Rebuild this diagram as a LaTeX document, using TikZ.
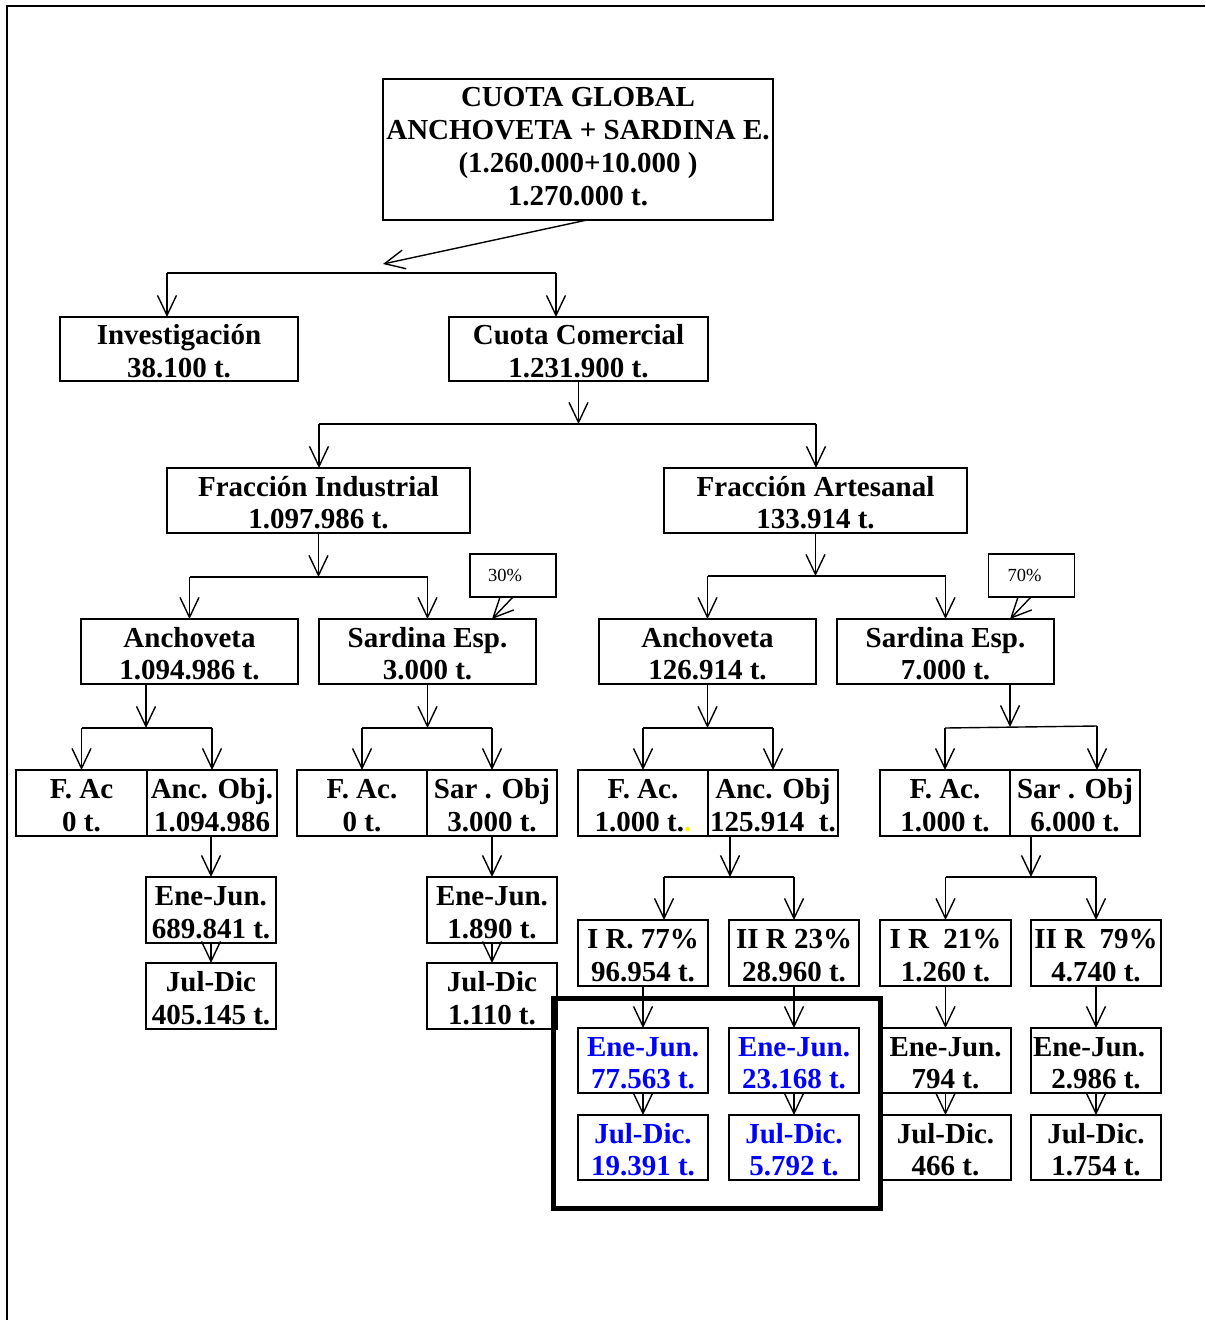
\documentclass[tikz,border=0pt]{standalone}
\usepackage{fontspec}
\setmainfont{Liberation Serif}
\usetikzlibrary{arrows.meta}
\newcommand{\Sa}{\rule{0pt}{24.5pt}}
\begin{document}
\begin{tikzpicture}[x=1pt,y=-1pt,
  every node/.style={inner sep=0pt, outer sep=0pt},
  bx/.style n args={2}{draw, line width=1.4pt, minimum width=#1pt, minimum height=#2pt, align=center,
     font=\bfseries\fontsize{29}{32.5}\selectfont},
  bigbx/.style={draw, line width=1.4pt, minimum width=390pt, minimum height=141pt, align=center,
     font=\bfseries\fontsize{29}{33}\selectfont, execute at end node={\rule[-6pt]{0pt}{6pt}}},
  pct/.style={draw, line width=1.4pt, minimum width=86pt, minimum height=43pt, align=center,
     font=\fontsize{18.5}{20}\selectfont},
  ln/.style={line width=1.4pt},
  arr/.style={line width=1.4pt, -{Straight Barb[length=20pt,width=19pt,line width=1.4pt]}},
  blu/.style={text=blue}]
\useasboundingbox (0,0) rectangle (1205,1320);
\fill[white] (0,0) rectangle (1205,1320);
% frame
\draw[line width=2pt] (7,1320) -- (7,6) -- (1205,6);

% nodes
\node[bigbx] (top) at (578,149.5) {CUOTA GLOBAL\\ANCHOVETA + SARDINA E.\\(1.260.000+10.000 )\\1.270.000 t.};
\node[bx={238}{64}] (inv) at (179,349) {\Sa Investigación\\38.100 t.};
\node[bx={259}{64}] (com) at (578.5,349) {\Sa Cuota Comercial\\1.231.900 t.};
\node[bx={303}{65}] (fi) at (318.5,500.5) {\Sa Fracción Industrial\\1.097.986 t.};
\node[bx={303}{65}] (fa) at (815.5,500.5) {\Sa Fracción Artesanal\\133.914 t.};
\node[pct] (p30) at (513,575.5) {\hspace*{-16pt}30\%};
\node[pct] (p70) at (1031.5,575.5) {\hspace*{-14pt}70\%};
\node[bx={217}{65}] (ancI) at (189.5,651.5) {\Sa Anchoveta\\1.094.986 t.};
\node[bx={217}{65}] (sarI) at (427.5,651.5) {\Sa Sardina Esp.\\3.000 t.};
\node[bx={217}{65}] (ancA) at (707.5,651.5) {\Sa Anchoveta\\126.914 t.};
\node[bx={217}{65}] (sarA) at (945.5,651.5) {\Sa Sardina Esp.\\7.000 t.};

\node[bx={131}{66}] (fac1) at (81.5,803) {\Sa F. Ac\\0 t.};
\node[bx={130}{66}] (aobj1) at (212,803) {\Sa Anc. Obj.\\1.094.986};
\node[bx={130}{66}] (fac2) at (362,803) {\Sa F. Ac.\\0 t.};
\node[bx={130}{66}] (sobj2) at (492,803) {\Sa Sar . Obj\\3.000 t.};
\node[bx={130}{66}] (fac3) at (643,803) {\Sa F. Ac.\\1.000 t.{\color{yellow}.}};
\node[bx={130}{66}] (aobj3) at (773,803) {\Sa Anc. Obj\\125.914~~t.};
\node[bx={130}{66}] (fac4) at (945,803) {\Sa F. Ac.\\1.000 t.};
\node[bx={130}{66}] (sobj4) at (1075,803) {\Sa Sar . Obj\\6.000 t.};

\node[bx={130}{66}] (ej1) at (211,910) {\Sa Ene-Jun.\\689.841 t.};
\node[bx={130}{66}] (jd1) at (211,996) {\Sa Jul-Dic\\405.145 t.};
\node[bx={130}{66}] (ej2) at (492,910) {\Sa Ene-Jun.\\1.890 t.};
\node[bx={130}{66}] (jd2) at (492,996) {\Sa Jul-Dic\\1.110 t.};

\node[bx={130}{66}] (ir1) at (643,953) {\Sa I R. 77\%\\96.954 t.};
\node[bx={130}{66}] (ir2) at (794,953) {\Sa II R 23\%\\28.960 t.};
\node[bx={131}{66}] (ir3) at (945.5,953) {\Sa I R~~21\%\\1.260 t.};
\node[bx={130}{66}] (ir4) at (1096,953) {\Sa II R~~79\%\\4.740 t.};

\node[bx={130}{65},blu] (ej3) at (643,1060.5) {\Sa Ene-Jun.\\77.563 t.};
\node[bx={130}{65},blu] (ej4) at (794,1060.5) {\Sa Ene-Jun.\\23.168 t.};
\node[bx={131}{65}] (ej5) at (945.5,1060.5) {\Sa Ene-Jun.\\794 t.};
\node[bx={130}{65}] (ej6) at (1096,1060.5) {\Sa\hspace*{-14pt}Ene-Jun.\\2.986 t.};

\node[bx={130}{65},blu] (jd3) at (643,1147.5) {\Sa Jul-Dic.\\19.391 t.};
\node[bx={130}{65},blu] (jd4) at (794,1147.5) {\Sa Jul-Dic.\\5.792 t.};
\node[bx={131}{65}] (jd5) at (945.5,1147.5) {\Sa Jul-Dic.\\466 t.};
\node[bx={130}{65}] (jd6) at (1096,1147.5) {\Sa Jul-Dic.\\1.754 t.};

% highlight box
\draw[line width=5pt] (553,998) rectangle (880,1208);

% top arrow
\coordinate (t1) at (383,264);
\draw[arr] ([xshift=9pt]top.south) -- (t1);

% level 1 bracket
\coordinate (b1l) at (167,273);
\coordinate (b1r) at (556,273);
\draw[ln] (b1l) -- (b1r);
\draw[arr] (b1l) -- (b1l |- inv.north);
\draw[arr] (b1r) -- (b1r |- com.north);

% comercial
\coordinate (b2) at (578.5,424);
\coordinate (b2l) at (319,424);
\coordinate (b2r) at (816,424);
\draw[arr] (com.south) -- (b2);
\draw[ln] (b2l) -- (b2r);
\draw[arr] (b2l) -- (b2l |- fi.north);
\draw[arr] (b2r) -- (b2r |- fa.north);

% industrial
\coordinate (b3) at (318.5,577);
\coordinate (b3l) at (189.5,577);
\coordinate (b3r) at (427.5,577);
\draw[arr] (fi.south) -- (b3);
\draw[ln] (b3l) -- (b3r);
\draw[arr] (b3l) -- (ancI.north);
\draw[arr] (b3r) -- (sarI.north);
\coordinate (p30t) at (492,619);
\draw[arr] (p30.south) -- (p30t);

% artesanal
\coordinate (b4) at (815.5,576);
\coordinate (b4l) at (707.5,576);
\coordinate (b4r) at (945.5,576);
\draw[arr] (fa.south) -- (b4);
\draw[ln] (b4l) -- (b4r);
\draw[arr] (b4l) -- (ancA.north);
\draw[arr] (b4r) -- (sarA.north);
\coordinate (p70t) at (1010,619);
\draw[arr] ([xshift=-0.5pt]p70.south) -- (p70t);

% anchoveta industrial
\coordinate (c1s) at (146,684);
\coordinate (c1) at (146,728);
\coordinate (c1l) at (81.5,728);
\coordinate (c1r) at (212,728);
\draw[arr] (c1s) -- (c1);
\draw[ln] (c1l) -- (c1r);
\draw[arr] (c1l) -- (fac1.north);
\draw[arr] (c1r) -- (aobj1.north);

% sardina industrial
\coordinate (c2) at (427.5,728);
\coordinate (c2l) at (362,728);
\coordinate (c2r) at (492,728);
\draw[arr] (sarI.south) -- (c2);
\draw[ln] (c2l) -- (c2r);
\draw[arr] (c2l) -- (fac2.north);
\draw[arr] (c2r) -- (sobj2.north);

% anchoveta artesanal
\coordinate (c3) at (707.5,728);
\coordinate (c3l) at (643,728);
\coordinate (c3r) at (773,728);
\draw[arr] (ancA.south) -- (c3);
\draw[ln] (c3l) -- (c3r);
\draw[arr] (c3l) -- (fac3.north);
\draw[arr] (c3r) -- (aobj3.north);

% sardina artesanal
\coordinate (c4s) at (1010,684);
\coordinate (c4) at (1010,727);
\coordinate (c4l) at (945,728);
\coordinate (c4r) at (1097,726);
\draw[arr] (c4s) -- (c4);
\draw[ln] (c4l) -- (c4r);
\draw[arr] (c4l) -- (fac4.north);
\draw[arr] (c4r) -- (c4r |- sobj4.north);

% left seasons
\draw[arr] ([xshift=-1pt]aobj1.south) -- (ej1.north);
\draw[arr] (ej1.south) -- (jd1.north);
\draw[arr] (sobj2.south) -- (ej2.north);
\draw[arr] (ej2.south) -- (jd2.north);

% regiones anchoveta
\coordinate (d1s) at (730,836);
\coordinate (d1) at (730,877);
\coordinate (d1l) at (664,877);
\coordinate (d1r) at (794,877);
\draw[arr] (d1s) -- (d1);
\draw[ln] (d1l) -- (d1r);
\draw[arr] (d1l) -- (d1l |- ir1.north);
\draw[arr] (d1r) -- (ir2.north);

% regiones sardina
\coordinate (d2s) at (1031,836);
\coordinate (d2) at (1031,877);
\coordinate (d2l) at (945.5,877);
\coordinate (d2r) at (1096,877);
\draw[arr] (d2s) -- (d2);
\draw[ln] (d2l) -- (d2r);
\draw[arr] (d2l) -- (ir3.north);
\draw[arr] (d2r) -- (ir4.north);

% regions to seasons
\foreach \i/\e/\j in {ir1/ej3/jd3, ir2/ej4/jd4, ir3/ej5/jd5, ir4/ej6/jd6}{
  \draw[arr] (\i.south) -- (\e.north);
  \draw[arr] (\e.south) -- (\j.north);
}
\end{tikzpicture}
\end{document}
